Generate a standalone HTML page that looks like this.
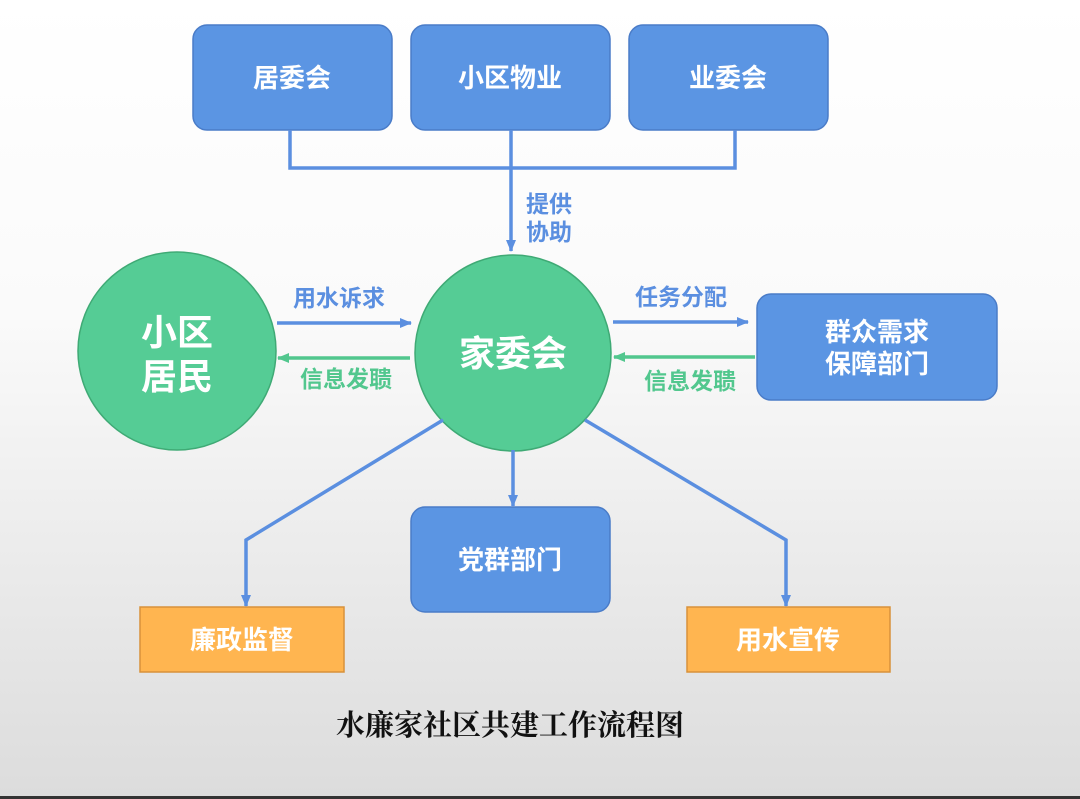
<!DOCTYPE html>
<html><head><meta charset="utf-8"><style>
body{margin:0;width:1080px;height:799px;overflow:hidden;background:linear-gradient(#fff 0%,#fafafa 40%,#dcdcdc 100%);font-family:"Liberation Sans","Noto Sans CJK SC",sans-serif;}
svg{position:absolute;left:0;top:0}
</style></head><body>
<svg width="1080" height="799" viewBox="0 0 1080 799">
<defs>
<marker id="ab" markerWidth="12" markerHeight="10" refX="11" refY="5" orient="auto" markerUnits="userSpaceOnUse"><path d="M0,0 L12,5 L0,10Z" fill="#5b8fe0"/></marker>
<marker id="ag" markerWidth="12" markerHeight="10" refX="11" refY="5" orient="auto" markerUnits="userSpaceOnUse"><path d="M0,0 L12,5 L0,10Z" fill="#52c78e"/></marker>
</defs>
<g fill="#5b95e3" stroke="#4a7cc8" stroke-width="1.5">
<rect x="193" y="25" width="199" height="105" rx="14"/>
<rect x="411" y="25" width="199" height="105" rx="14"/>
<rect x="629" y="25" width="199" height="105" rx="14"/>
<rect x="757" y="294" width="240" height="106" rx="14"/>
<rect x="411" y="507" width="199" height="105" rx="14"/>
</g>
<g fill="#ffb550" stroke="#d8913a" stroke-width="1.5">
<rect x="140" y="607" width="204" height="65"/>
<rect x="687" y="607" width="203" height="65"/>
</g>
<g fill="#55cc95" stroke="#3faa75" stroke-width="1.5">
<circle cx="177" cy="351" r="99"/>
<circle cx="513" cy="353" r="98"/>
</g>
<g stroke="#5b8fe0" stroke-width="3.5" fill="none">
<polyline points="290,130 290,168 735,168 735,130"/>
<line x1="511" y1="130" x2="511" y2="251" marker-end="url(#ab)"/>
<line x1="277" y1="323" x2="411" y2="323" marker-end="url(#ab)"/>
<line x1="613" y1="322" x2="748" y2="322" marker-end="url(#ab)"/>
<polyline points="443,420 246,540 246,606" marker-end="url(#ab)"/>
<line x1="513" y1="450" x2="513" y2="506" marker-end="url(#ab)"/>
<polyline points="585,420 786,540 786,606" marker-end="url(#ab)"/>
</g>
<g stroke="#52c78e" stroke-width="3.5">
<line x1="410" y1="358" x2="278" y2="358" marker-end="url(#ag)"/>
<line x1="755" y1="357" x2="614" y2="357" marker-end="url(#ag)"/>
</g>
<g fill="#fff" font-weight="bold" font-size="26" text-anchor="middle">
<text x="292" y="87">居委会</text>
<text x="510" y="87">小区物业</text>
<text x="728" y="87">业委会</text>
<text x="877" y="341">群众需求</text>
<text x="877" y="373">保障部门</text>
<text x="510" y="569">党群部门</text>
<text x="242" y="649">廉政监督</text>
<text x="788" y="649">用水宣传</text>
<text x="513" y="366" font-size="36">家委会</text>
<text x="177" y="345" font-size="36">小区</text>
<text x="177" y="389" font-size="36">居民</text>
</g>
<g fill="#5b8fe0" font-weight="bold" font-size="23" text-anchor="middle">
<text x="549" y="212">提供</text>
<text x="549" y="240">协助</text>
<text x="339" y="306">用水诉求</text>
<text x="681" y="305">任务分配</text>
</g>
<g fill="#52c78e" font-weight="bold" font-size="23" text-anchor="middle">
<text x="346" y="387">信息发聩</text>
<text x="690" y="389">信息发聩</text>
</g>
<text x="510" y="735" text-anchor="middle" font-size="29" font-weight="bold" fill="#111" font-family="'Liberation Serif','Noto Serif CJK SC',serif">水廉家社区共建工作流程图</text>
<rect x="0" y="796" width="1080" height="3" fill="#333"/>
</svg>
</body></html>
